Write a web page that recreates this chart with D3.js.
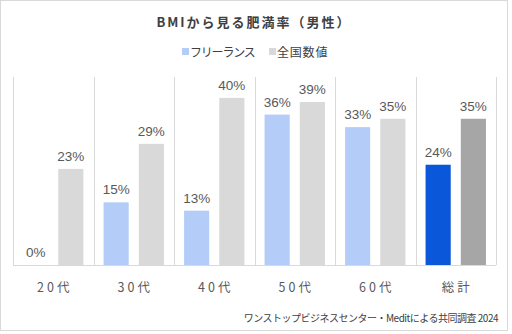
<!DOCTYPE html>
<html><head><meta charset="utf-8">
<script src="https://cdn.jsdelivr.net/npm/d3@7"></script>
<style>html,body{margin:0;padding:0;background:#fff;}svg{display:block;}</style>
</head><body>
<svg id="c" width="512" height="334"></svg>
<script>
const categories = ["20代","30代","40代","50代","60代","総計"];
const seriesNames = ["フリーランス","全国数値"];
const freelance = [0,15,13,36,33,24];
const national = [23,29,40,39,35,35];
const yMax = 45;

const svg = d3.select("#c");
const W = 512, H = 334;
const m = {left:13, right:16, top:77, bottom:69};
const jp = "'Noto Sans CJK JP', sans-serif";
const num = "'Liberation Sans', Arial, sans-serif";

svg.append("rect").attr("x",0.5).attr("y",0.5).attr("width",507).attr("height",330)
  .attr("fill","#fff").attr("stroke","#d9d9d9");

const x = d3.scaleBand().domain(categories).range([m.left, W-m.right]).paddingInner(0).paddingOuter(0);
const inner = d3.scaleBand().domain([0,1]).range([0,x.bandwidth()]).paddingInner(0.286).paddingOuter(0.286);
const y = d3.scaleLinear().domain([0,yMax]).range([H-m.bottom, m.top]);

// separators
const bounds = categories.map(c=>x(c)).concat([x(categories[categories.length-1])+x.bandwidth()]);
svg.append("g").selectAll("line").data(bounds).join("line")
  .attr("x1",d=>Math.round(d)+0.5).attr("x2",d=>Math.round(d)+0.5)
  .attr("y1",y(yMax)).attr("y2",y(0))
  .attr("stroke","#d9d9d9");
svg.append("line").attr("x1",m.left).attr("x2",W-m.right).attr("y1",Math.round(y(0))+0.5).attr("y2",Math.round(y(0))+0.5).attr("stroke","#d9d9d9");

const colors = [["#b4cdf8","#d9d9d9"],["#b4cdf8","#d9d9d9"],["#b4cdf8","#d9d9d9"],["#b4cdf8","#d9d9d9"],["#b4cdf8","#d9d9d9"],["#0b57d9","#a6a6a6"]];
const data = [];
categories.forEach((c,i)=>{
  data.push({c, s:0, v:freelance[i], col:colors[i][0]});
  data.push({c, s:1, v:national[i], col:colors[i][1]});
});
const g = svg.append("g");
g.selectAll("rect").data(data).join("rect")
  .attr("x",d=>x(d.c)+inner(d.s)).attr("width",inner.bandwidth())
  .attr("y",d=>y(d.v)).attr("height",d=>y(0)-y(d.v))
  .attr("fill",d=>d.col);
g.selectAll("text").data(data).join("text")
  .attr("x",d=>x(d.c)+inner(d.s)+inner.bandwidth()/2)
  .attr("y",d=>y(d.v)-8)
  .attr("text-anchor","middle")
  .attr("font-family",num).attr("font-size",13.5).attr("fill","#595959")
  .text(d=>d.v+"%");

// category labels
svg.append("g").selectAll("text").data(categories).join("text")
  .attr("x",d=>x(d)+x.bandwidth()/2+1.5).attr("y",292)
  .attr("text-anchor","middle").attr("font-family",jp).attr("font-size",12.5)
  .attr("letter-spacing","3px").attr("fill","#595959").text(d=>d);

// title
svg.append("text").attr("x",254).attr("y",27).attr("text-anchor","middle")
  .attr("font-family",jp).attr("font-size",13).attr("font-weight","bold")
  .attr("letter-spacing","2px").attr("fill","#404040").text("BMIから見る肥満率（男性）");

// legend
const legX = [182, 269];
const legCols = ["#b4cdf8","#d9d9d9"];
const legSpacing = ["-1.2px","0.8px"];
seriesNames.forEach((n,i)=>{
  svg.append("rect").attr("x",legX[i]).attr("y",48).attr("width",7).attr("height",7).attr("fill",legCols[i]);
  svg.append("text").attr("x",legX[i]+8).attr("y",56.5).attr("font-family",jp).attr("font-size",12)
    .attr("letter-spacing",legSpacing[i])
    .attr("fill","#404040").text(n);
});

// source
svg.append("text").attr("x",498).attr("y",322).attr("text-anchor","end")
  .attr("font-family",jp).attr("font-size",10).attr("fill","#404040")
  .attr("letter-spacing","-0.5px")
  .text("ワンストップビジネスセンター・Meditによる共同調査 2024");
</script>
</body></html>
